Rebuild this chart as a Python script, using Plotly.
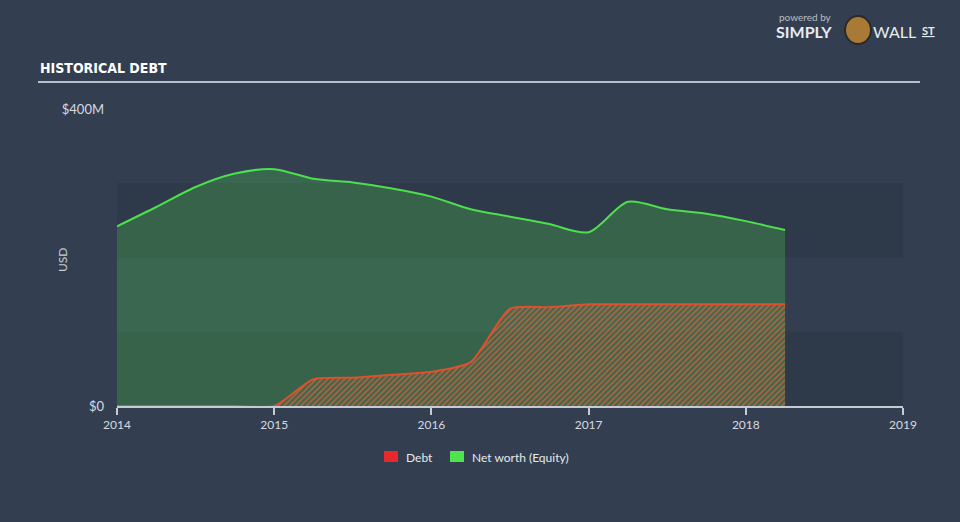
import plotly.graph_objects as go

# ---- data (values in $M) ----
dates = [2014.0, 2014.25, 2014.5, 2014.75, 2015.0, 2015.25, 2015.5, 2015.75,
         2016.0, 2016.25, 2016.5, 2016.75, 2017.0, 2017.25, 2017.5, 2017.75,
         2018.0, 2018.25]
equity = [242, 268, 295, 313, 319, 306, 301, 293,
          282, 265, 255, 245, 234, 275, 265, 259,
          249, 237]
debt = [0, 0, 0, 0, 0, 36, 38, 42,
        46, 59, 131, 133, 137, 137, 137, 137,
        137, 137]
x_ticks = [2014, 2015, 2016, 2017, 2018, 2019]
y_ticks = [0, 400]
y_tick_text = ["$0", "$400M"]

BG = "#333f50"
BAND = "#2e3949"
GREEN = "#4ddf4d"
RED = "#e0502c"
FONT = "Lato"

fig = go.Figure()

fig.add_trace(go.Scatter(
    x=dates, y=equity, mode="lines", line=dict(color=GREEN, width=2, shape="spline", smoothing=0.8),
    fill="tozeroy", fillcolor="rgba(77,220,77,0.26)", showlegend=False, hoverinfo="skip"))

fig.add_trace(go.Scatter(
    x=dates, y=debt, mode="lines", line=dict(color=RED, width=2, shape="spline", smoothing=0.6),
    fill="tozeroy", fillcolor="rgba(0,0,0,0)",
    fillpattern=dict(shape="/", size=4, solidity=0.45, fgcolor="rgba(215,100,55,0.75)",
                     bgcolor="rgba(90,110,90,0.15)", fillmode="replace"),
    showlegend=False, hoverinfo="skip"))

def px(xp):
    return (xp - 117) / 786

def py(yp):
    return (406 - yp) / 297

shapes = []
# alternating bands
for y0, y1 in [(0, 100), (200, 300)]:
    shapes.append(dict(type="rect", xref="x", yref="y", x0=2014, x1=2019, y0=y0, y1=y1,
                       fillcolor=BAND, line=dict(width=0), layer="below"))
# title underline
shapes.append(dict(type="line", xref="paper", yref="paper",
                   x0=px(38), x1=px(920), y0=py(82), y1=py(82),
                   line=dict(color="#b9bfc7", width=2)))
# legend squares
shapes.append(dict(type="rect", xref="paper", yref="paper", x0=px(384), x1=px(398),
                   y0=py(462), y1=py(451), fillcolor="#e8292b", line=dict(width=0)))
shapes.append(dict(type="rect", xref="paper", yref="paper", x0=px(450), x1=px(464),
                   y0=py(462), y1=py(451), fillcolor="#4ee44e", line=dict(width=0)))
# logo icon
shapes.append(dict(type="circle", xref="paper", yref="paper", x0=px(845), x1=px(871),
                   y0=py(44), y1=py(16), fillcolor="#a87a35", line=dict(color="#2a2a2a", width=2)))

annotations = [
    dict(text="<b>HISTORICAL DEBT</b>", xref="paper", yref="paper", x=px(38), y=py(68),
         xanchor="left", yanchor="middle", showarrow=False,
         font=dict(family="Liberation Sans Narrow, DejaVu Sans Condensed, Arial Narrow", size=14,
                   color="#ffffff")),
    dict(text="USD", xref="paper", yref="paper", x=px(62), y=py(260), textangle=-90,
         xanchor="center", yanchor="middle", showarrow=False,
         font=dict(family=FONT, size=12, color="#c9ced6")),
    dict(text="Debt", xref="paper", yref="paper", x=px(404), y=py(457),
         xanchor="left", yanchor="middle", showarrow=False,
         font=dict(family=FONT, size=12, color="#e6e9ee")),
    dict(text="Net worth (Equity)", xref="paper", yref="paper", x=px(470), y=py(457),
         xanchor="left", yanchor="middle", showarrow=False,
         font=dict(family=FONT, size=12, color="#e6e9ee")),
    dict(text="powered by", xref="paper", yref="paper", x=px(778), y=py(17),
         xanchor="left", yanchor="middle", showarrow=False, borderpad=0,
         font=dict(family=FONT, size=10, color="#b8bec6")),
    dict(text="<b>SIMPLY</b>", xref="paper", yref="paper", x=px(775), y=py(32),
         xanchor="left", yanchor="middle", showarrow=False, borderpad=0,
         font=dict(family=FONT, size=16, color="#e8ebef")),
    dict(text="WALL", xref="paper", yref="paper", x=px(872), y=py(32),
         xanchor="left", yanchor="middle", showarrow=False, borderpad=0,
         font=dict(family=FONT, size=16, color="#e8ebef")),
    dict(text="<b><u>ST</u></b>", xref="paper", yref="paper", x=px(921), y=py(30),
         xanchor="left", yanchor="middle", showarrow=False, borderpad=0,
         font=dict(family=FONT, size=11, color="#e8ebef")),
]

fig.update_layout(
    width=960, height=522,
    margin=dict(l=117, r=57, t=109, b=116),
    paper_bgcolor=BG, plot_bgcolor=BG,
    shapes=shapes, annotations=annotations,
    showlegend=False,
    font=dict(family=FONT, size=12, color="#d6dae0"),
)
fig.update_xaxes(range=[2014, 2019], tickvals=x_ticks, ticktext=[str(v) for v in x_ticks],
                 showgrid=False, zeroline=False, showline=True, linecolor="#c5cbd3", linewidth=1.5,
                 ticks="outside", ticklen=7, tickcolor="#c5cbd3", tickwidth=1.5,
                 tickfont=dict(family=FONT, size=12, color="#d6dae0"))
fig.update_yaxes(range=[0, 400], tickvals=y_ticks, ticktext=y_tick_text,
                 showgrid=False, zeroline=False, showline=False, ticks="",
                 ticklabelstandoff=12,
                 tickfont=dict(family=FONT, size=13, color="#d6dae0"))

fig.write_html("out.html")
